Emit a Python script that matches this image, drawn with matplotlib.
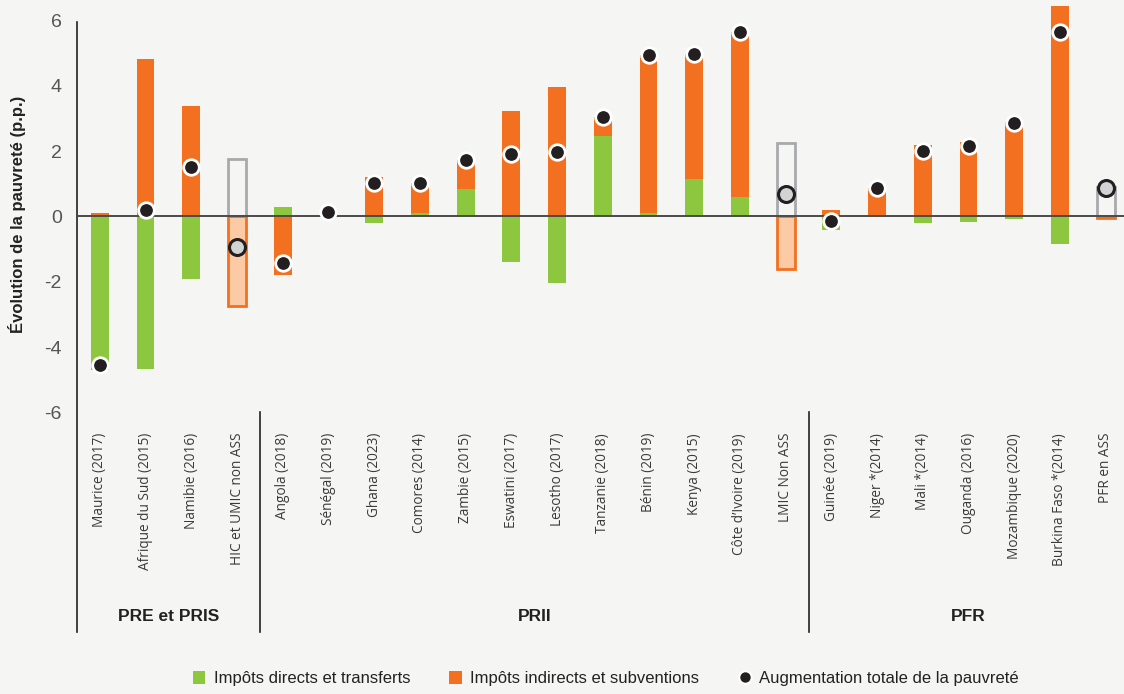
import matplotlib
matplotlib.use('Agg')
import matplotlib.pyplot as plt
from matplotlib import font_manager
from matplotlib.lines import Line2D
from matplotlib.patches import Patch
import numpy as np

# condensed face for axis/legend text, if present
_names = {f.name for f in font_manager.fontManager.ttflist}
NARROW = 'Liberation Sans Narrow' if 'Liberation Sans Narrow' in _names else 'Liberation Sans'

labels = ["Maurice (2017)", "Afrique du Sud (2015)", "Namibie (2016)", "HIC et UMIC non ASS",
          "Angola (2018)", "Sénégal (2019)", "Ghana (2023)", "Comores (2014)", "Zambie (2015)",
          "Eswatini (2017)", "Lesotho (2017)", "Tanzanie (2018)", "Bénin (2019)", "Kenya (2015)",
          "Côte d’Ivoire (2019)", "LMIC Non ASS",
          "Guinée (2019)", "Niger *(2014)", "Mali *(2014)", "Ouganda (2016)",
          "Mozambique (2020)", "Burkina Faso *(2014)", "PFR en ASS"]

direct = [-4.69, -4.66, -1.91, 1.75, 0.30, 0.05, -0.21, 0.12, 0.84, -1.40, -2.04, 2.46,
          0.12, 1.15, 0.58, 2.24, -0.41, -0.02, -0.21, -0.17, -0.08, -0.83, 0.90]
indirect = [0.12, 4.81, 3.39, -2.74, -1.79, 0.10, 1.20, 0.91, 0.89, 3.24, 3.95, 0.59,
            4.82, 3.82, 5.05, -1.62, 0.20, 0.86, 2.17, 2.28, 2.88, 6.45, -0.05]
total = [-4.54, 0.20, 1.52, -0.94, -1.43, 0.15, 1.01, 1.03, 1.73, 1.90, 1.96, 3.05,
         4.94, 4.97, 5.63, 0.69, -0.14, 0.86, 2.01, 2.16, 2.87, 5.63, 0.86]

# non-SSA / regional reference bars
benchmark = ["HIC et UMIC non ASS", "LMIC Non ASS", "PFR en ASS"]

groups = ["PRE et PRIS", "PRII", "PFR"]
group_spans = [(0, 3), (4, 15), (16, 22)]

GREEN = '#8dc63f'
ORANGE = '#f37021'
ORANGE_LIGHT = '#fccba6'
GREY = '#a7a9ac'
DOT = '#231f20'
BG = '#f5f5f3'
TXT = '#3a3a3a'

fig = plt.figure(figsize=(11.24, 6.94), dpi=100, facecolor=BG)
ax = fig.add_axes([0.0685, 0.0893, 0.9315, 0.9107])
ax.set_facecolor(BG)

x = np.arange(len(labels))
w = 0.39
YMIN, YMAX = -12.71, 6.62

for i, lab in enumerate(labels):
    pos, neg = 0.0, 0.0
    bench = lab in benchmark
    for v, col in ((direct[i], GREEN), (indirect[i], ORANGE)):
        base = pos if v >= 0 else neg
        if bench:
            if col == GREEN:
                kw = dict(facecolor='none', edgecolor=GREY, linewidth=2.0)
            else:
                kw = dict(facecolor=ORANGE_LIGHT, edgecolor=ORANGE, linewidth=2.0)
        else:
            kw = dict(color=col, linewidth=0)
        ax.bar(x[i], v, w, bottom=base, zorder=2, **kw)
        if v >= 0:
            pos += v
        else:
            neg += v
    if bench:
        ax.plot(x[i], total[i], 'o', ms=11.5, mfc='#d1d3d4', mec=DOT, mew=2.2, zorder=4)
    else:
        ax.plot(x[i], total[i], 'o', ms=11.2, mfc=DOT, mec='white', mew=2.0, zorder=4)

# zero line
ax.axhline(0, color='#4a4a4a', lw=1.4, zorder=3)

ax.set_xlim(-0.5, 22.4)
ax.set_ylim(YMIN, YMAX)
for s in ('top', 'right', 'bottom'):
    ax.spines[s].set_visible(False)
ax.spines['left'].set_bounds(YMIN, 5.95)
ax.spines['left'].set_color('#222222')
ax.spines['left'].set_linewidth(1.2)

ax.set_xticks([])
ax.set_yticks(np.arange(-6, 7, 2))
ax.set_yticklabels([str(t) for t in np.arange(-6, 7, 2)], family=NARROW,
                   fontsize=14, color='#555555')
ax.tick_params(axis='y', length=0, pad=11)

# category labels under the plotting area
for i, lab in enumerate(labels):
    ax.text(x[i], -6.62, lab, rotation=90, ha='center', va='top',
            fontsize=9.8, color=TXT, family='Open Sans')

# group separators and group names
for sep in (3.5, 15.5):
    ax.plot([sep, sep], [-5.98, YMIN], color='#222222', lw=1.2, clip_on=False)
for name, (a, b) in zip(groups, group_spans):
    ax.text((a + b) / 2, -12.25, name, ha='center', va='center', fontsize=12.5,
            fontweight='bold', family=NARROW, color='#222222')

fig.text(17 / 1124, 1 - 214 / 694, 'Évolution de la pauvreté (p.p.)', rotation=90,
         ha='center', va='center', fontsize=12, fontweight='bold', family=NARROW,
         color='#222222')

handles = [
    Patch(facecolor=GREEN, edgecolor='none'),
    Patch(facecolor=ORANGE, edgecolor='none'),
    Line2D([], [], marker='o', ls='none', ms=9, mfc=DOT, mec='white', mew=1.5),
]
fig.legend(handles, ['Impôts directs et transferts', 'Impôts indirects et subventions',
                     'Augmentation totale de la pauvreté'],
           loc='center', bbox_to_anchor=(0.539, 0.022), ncol=3, frameon=False,
           handlelength=0.75, handleheight=0.75, handletextpad=0.5, columnspacing=2.35,
           prop={'family': NARROW, 'size': 12}, labelcolor='#222222')

fig.savefig('out.png', dpi=100, facecolor=BG)
